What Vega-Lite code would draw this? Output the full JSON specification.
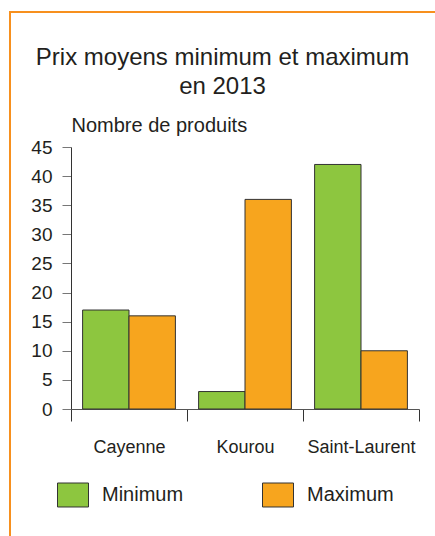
{
  "$schema": "https://vega.github.io/schema/vega-lite/v6.json",
  "autosize": {"type": "none"},
  "padding": {"left": 10, "top": 12, "right": 0, "bottom": 0},
  "width": 425,
  "height": 524,
  "background": "white",
  "title": {
    "text": ["Prix moyens minimum et maximum", "en 2013"],
    "anchor": "middle",
    "frame": "group",
    "font": "Liberation Sans",
    "fontSize": 24,
    "fontWeight": "normal",
    "color": "#231f20",
    "lineHeight": 29,
    "baseline": "alphabetic",
    "offset": 0,
    "dy": 106
  },
  "data": {
    "values": [
      {"ville": "Cayenne", "type": "Minimum", "n": 17},
      {"ville": "Cayenne", "type": "Maximum", "n": 16},
      {"ville": "Kourou", "type": "Minimum", "n": 3},
      {"ville": "Kourou", "type": "Maximum", "n": 36},
      {"ville": "Saint-Laurent", "type": "Minimum", "n": 42},
      {"ville": "Saint-Laurent", "type": "Maximum", "n": 10}
    ]
  },
  "mark": {"type": "bar", "stroke": "#333333", "strokeWidth": 1, "opacity": 1},
  "encoding": {
    "x": {
      "field": "ville",
      "type": "nominal",
      "sort": ["Cayenne", "Kourou", "Saint-Laurent"],
      "scale": {"range": [61, 409], "paddingInner": 0, "paddingOuter": 0},
      "axis": {
        "title": null,
        "orient": "bottom",
        "offset": -127,
        "labelAngle": 0,
        "tickBand": "extent",
        "tickSize": 12,
        "labelPadding": 17,
        "labelFontSize": 18,
        "domainColor": "#555555",
        "tickColor": "#333333"
      }
    },
    "xOffset": {
      "field": "type",
      "type": "nominal",
      "sort": ["Minimum", "Maximum"],
      "scale": {"paddingInner": 0, "paddingOuter": 0.25}
    },
    "y": {
      "field": "n",
      "type": "quantitative",
      "scale": {"domain": [0, 45], "range": [397, 135], "nice": false, "zero": true},
      "axis": {
        "title": "Nombre de produits",
        "orient": "left",
        "offset": -61,
        "values": [0, 5, 10, 15, 20, 25, 30, 35, 40, 45],
        "tickSize": 9,
        "labelPadding": 10,
        "labelFontSize": 19,
        "titleAngle": 0,
        "titleAlign": "left",
        "titleBaseline": "alphabetic",
        "titleX": 0,
        "titleY": 119,
        "titleFontSize": 20,
        "titleFontWeight": "normal",
        "domainColor": "#333333",
        "tickColor": "#777777"
      }
    },
    "color": {
      "field": "type",
      "type": "nominal",
      "sort": ["Minimum", "Maximum"],
      "scale": {"domain": ["Minimum", "Maximum"], "range": ["#8dc63f", "#f7a51e"]},
      "legend": {
        "title": null,
        "orient": "none",
        "direction": "horizontal",
        "legendX": 47,
        "legendY": 467,
        "padding": 0,
        "symbolType": "M-1,-0.774L1,-0.774L1,0.774L-1,0.774Z",
        "symbolSize": 961,
        "symbolStrokeColor": "#333333",
        "symbolStrokeWidth": 1,
        "symbolOpacity": 1,
        "labelFontSize": 20,
        "labelOffset": 13,
        "columnPadding": 76,
        "labelLimit": 300
      }
    }
  },
  "config": {
    "font": "Liberation Sans",
    "view": {"stroke": "#f7901e", "strokeWidth": 2, "strokeDash": [425, 949, 524]},
    "axis": {
      "grid": false,
      "labelFont": "Liberation Sans",
      "labelColor": "#231f20",
      "titleFont": "Liberation Sans",
      "titleColor": "#231f20",
      "domainWidth": 1,
      "tickWidth": 1
    },
    "legend": {"labelFont": "Liberation Sans", "labelColor": "#231f20"}
  }
}
